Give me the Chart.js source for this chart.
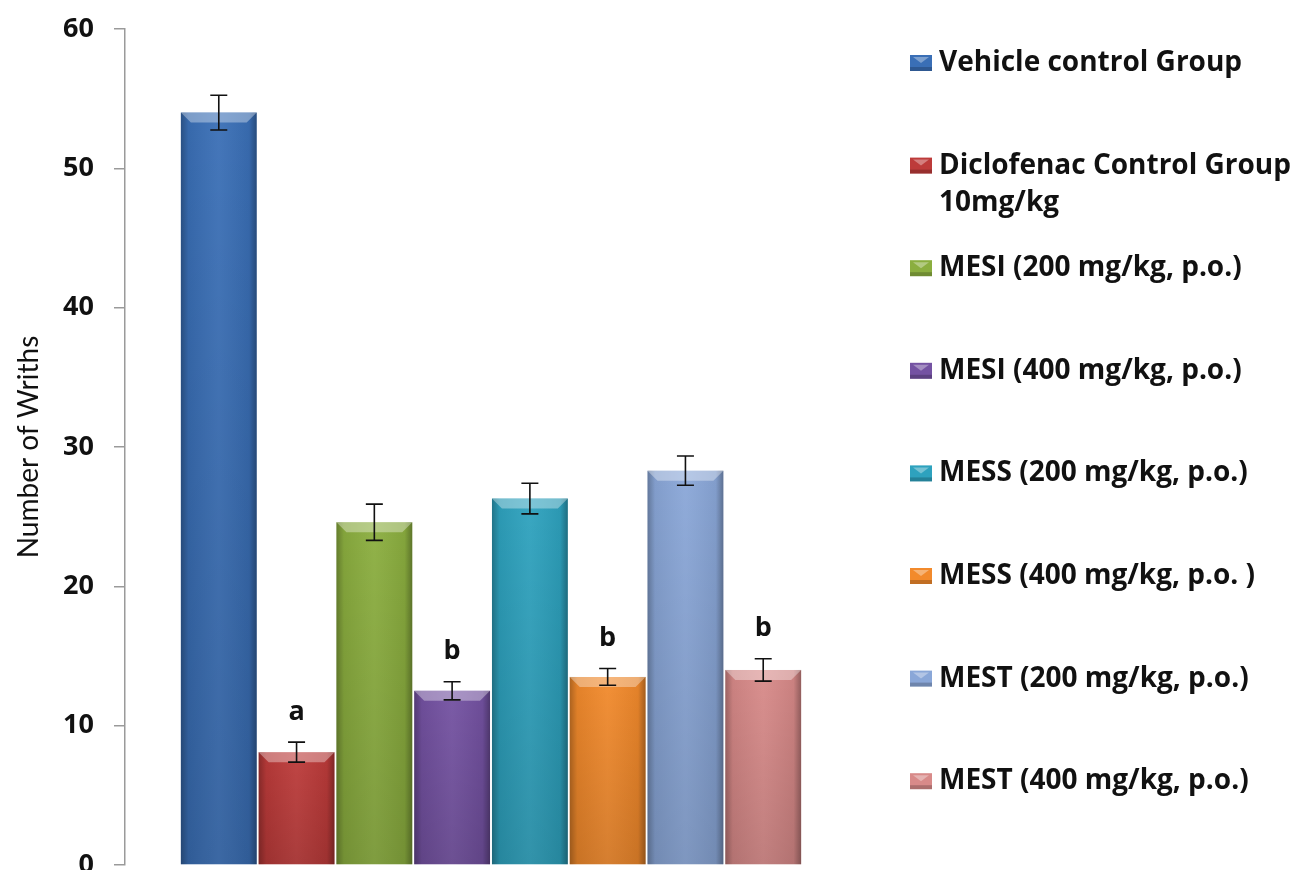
<!DOCTYPE html>
<html>
<head>
<meta charset="utf-8">
<script src="https://cdn.jsdelivr.net/npm/chart.js@4.4.0/dist/chart.umd.min.js"></script>
<style>
  body { margin: 0; background: #fff; }
  #wrap { width: 1306px; height: 870px; }
</style>
</head>
<body>
<div id="wrap"><canvas id="writhsChart" width="1306" height="870"></canvas></div>
<script>
// Datos del gráfico
const groupLabels = [
    'Vehicle control Group',
    'Diclofenac Control Group\n10mg/kg',
    'MESI (200 mg/kg, p.o.)',
    'MESI (400 mg/kg, p.o.)',
    'MESS (200 mg/kg, p.o.)',
    'MESS (400 mg/kg, p.o. )',
    'MEST (200 mg/kg, p.o.)',
    'MEST (400 mg/kg, p.o.)'
];
const writhMeans = [54.0, 8.1, 24.6, 12.5, 26.3, 13.5, 28.3, 14.0];
const writhErrors = [1.25, 0.72, 1.3, 0.65, 1.1, 0.6, 1.05, 0.8];
const sigLetters = ['', 'a', '', 'b', '', 'b', '', 'b'];
const barColors = ['#3a6fb6', '#bd3b3a', '#8bae3f', '#7452a2', '#2ea2be', '#f28a2c', '#8aa7d8', '#d88a89'];
const yTicks = [0, 10, 20, 30, 40, 50, 60];

(function() {
    // Sombreado tipo 3D de las barras
    const barShade = {
        id: 'barShade',
        afterDatasetsDraw(chart) {
            const ctx = chart.ctx;
            chart.data.datasets.forEach((ds, i) => {
                chart.getDatasetMeta(i).data.forEach(bar => {
                    const l = bar.x - bar.width / 2, r = bar.x + bar.width / 2;
                    const t = bar.y, b = bar.base;
                    ctx.save();
                    const gh = ctx.createLinearGradient(l, 0, r, 0);
                    gh.addColorStop(0, 'rgba(0,0,0,0.28)');
                    gh.addColorStop(0.1, 'rgba(0,0,0,0.06)');
                    gh.addColorStop(0.5, 'rgba(255,255,255,0.05)');
                    gh.addColorStop(0.9, 'rgba(0,0,0,0.06)');
                    gh.addColorStop(1, 'rgba(0,0,0,0.32)');
                    ctx.fillStyle = gh;
                    ctx.fillRect(l, t, r - l, b - t);
                    const gv = ctx.createLinearGradient(0, t, 0, b);
                    gv.addColorStop(0, 'rgba(0,0,0,0)');
                    gv.addColorStop(1, 'rgba(0,0,0,0.12)');
                    ctx.fillStyle = gv;
                    ctx.fillRect(l, t, r - l, b - t);
                    // bisel superior
                    const bev = Math.min(10, (b - t) / 2);
                    ctx.beginPath();
                    ctx.moveTo(l, t);
                    ctx.lineTo(r, t);
                    ctx.lineTo(r - bev, t + bev);
                    ctx.lineTo(l + bev, t + bev);
                    ctx.closePath();
                    ctx.fillStyle = 'rgba(255,255,255,0.35)';
                    ctx.fill();
                    ctx.restore();
                });
            });
        }
    };

    // Barras de error y letras de significancia
    const errorBars = {
        id: 'errorBars',
        afterDatasetsDraw(chart) {
            const ctx = chart.ctx;
            const yScale = chart.scales.y;
            ctx.save();
            ctx.strokeStyle = '#111';
            ctx.lineWidth = 1.6;
            chart.data.datasets.forEach((ds, i) => {
                const bar = chart.getDatasetMeta(i).data[0];
                const v = ds.data[0];
                const yTop = yScale.getPixelForValue(v + writhErrors[i]);
                const yBot = yScale.getPixelForValue(v - writhErrors[i]);
                const x = bar.x;
                ctx.beginPath();
                ctx.moveTo(x, yTop); ctx.lineTo(x, yBot);
                ctx.moveTo(x - 8.5, yTop); ctx.lineTo(x + 8.5, yTop);
                ctx.moveTo(x - 8.5, yBot); ctx.lineTo(x + 8.5, yBot);
                ctx.stroke();
                if (sigLetters[i]) {
                    ctx.fillStyle = '#111';
                    ctx.font = 'bold 27px "Open Sans"';
                    ctx.textAlign = 'center';
                    ctx.textBaseline = 'middle';
                    ctx.fillText(sigLetters[i], x, yTop - 30);
                }
            });
            ctx.restore();
        }
    };

    // Leyenda a la derecha
    const sideLegend = {
        id: 'sideLegend',
        afterDraw(chart) {
            const ctx = chart.ctx;
            ctx.save();
            ctx.font = 'bold 28px "Open Sans"';
            ctx.textBaseline = 'middle';
            ctx.textAlign = 'left';
            chart.data.datasets.forEach((ds, i) => {
                const y = 63 + i * 102.6;
                ctx.fillStyle = ds.backgroundColor;
                ctx.fillRect(910, y - 8, 22, 16);
                ctx.fillStyle = 'rgba(0,0,0,0.2)';
                ctx.fillRect(910, y + 4, 22, 4);
                ctx.fillStyle = 'rgba(255,255,255,0.35)';
                ctx.beginPath();
                ctx.moveTo(913, y - 6); ctx.lineTo(929, y - 6); ctx.lineTo(921, y);
                ctx.closePath(); ctx.fill();
                ctx.fillStyle = '#111';
                ds.label.split('\n').forEach((line, k) => {
                    ctx.fillText(line, 939, y + k * 37);
                });
            });
            ctx.restore();
        }
    };

    const ctx = document.getElementById('writhsChart').getContext('2d');
    new Chart(ctx, {
        type: 'bar',
        data: {
            labels: [''],
            datasets: groupLabels.map((label, i) => ({
                label: label,
                data: [writhMeans[i]],
                backgroundColor: barColors[i],
                borderWidth: 0,
                categoryPercentage: 0.85,
                barPercentage: 0.975
            }))
        },
        options: {
            responsive: false,
            animation: false,
            layout: { padding: { top: 29, right: 449, bottom: 5, left: 0 } },
            plugins: {
                legend: { display: false },
                tooltip: { enabled: false }
            },
            scales: {
                x: { display: false },
                y: {
                    min: 0,
                    max: 60,
                    afterBuildTicks: (scale) => { scale.ticks = yTicks.map(v => ({ value: v })); },
                    afterFit: (scale) => {
                        scale.width = 125;
                        scale.paddingTop = 0;
                        scale.paddingBottom = 0;
                    },
                    border: { display: true, color: '#9a9a9a', width: 1.5 },
                    grid: { drawOnChartArea: false, drawTicks: true, tickLength: 11, color: '#9a9a9a', lineWidth: 1.5 },
                    ticks: {
                        padding: 20,
                        color: '#111',
                        font: { family: 'Open Sans', weight: 'bold', size: 27 }
                    },
                    title: {
                        display: true,
                        text: 'Number of Wriths',
                        color: '#111',
                        padding: { top: 12, bottom: 0 },
                        font: { family: 'Lato', size: 28 }
                    }
                }
            }
        },
        plugins: [barShade, errorBars, sideLegend]
    });
})();
</script>
</body>
</html>
